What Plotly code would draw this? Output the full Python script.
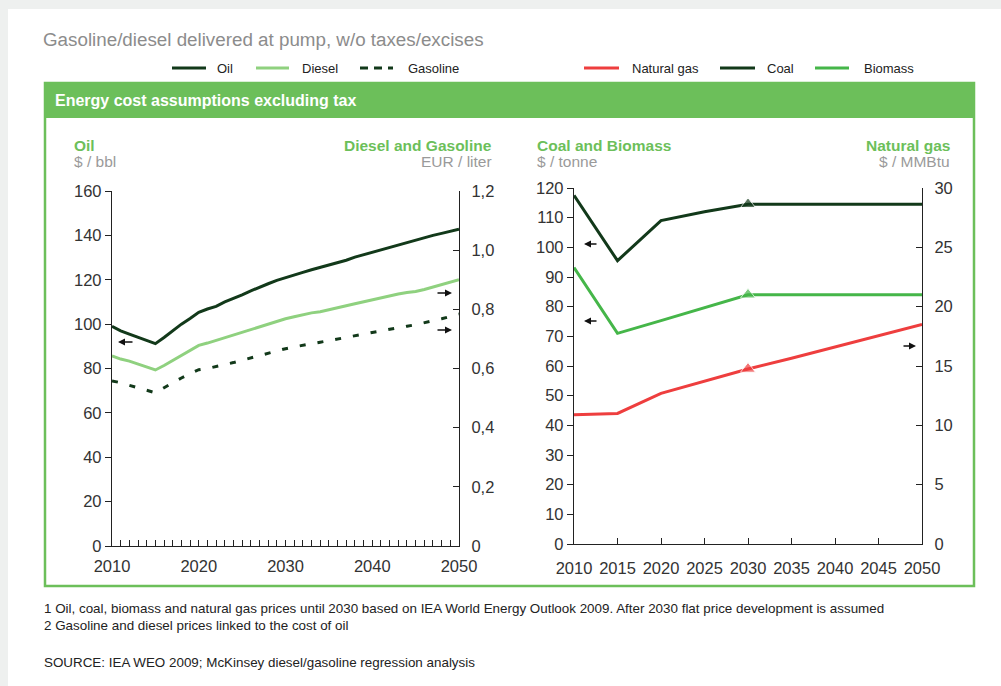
import plotly.graph_objects as go

# ---------------- data ----------------
oil_years = list(range(2010, 2051))
oil_usd_bbl = [99, 97, 95.5, 94, 92.5, 91.2, 94, 97, 100, 102.5,
               105.3, 106.8, 108, 110, 111.5, 113.2, 115, 116.7, 118.2, 119.7,
               121, 122.2, 123.3, 124.5, 125.5, 126.5, 127.7, 128.8, 130.2, 131.3,
               132.2, 133.6, 134.7, 135.5, 136.6, 137.8, 139, 140, 140.9, 141.8, 142.8]
diesel_eur_l = [.643, .632, .625, .615, .605, .595, .610, .627, .643, .660,
                .678, .686, .695, .705, .714, .722, .732, .741, .750, .760,
                .768, .775, .782, .788, .792, .798, .805, .812, .819, .826,
                .833, .840, .846, .852, .857, .860, .867, .875, .883, .891, .900]
gasoline_eur_l = [.558, .552, .543, .535, .527, .518, .535, .552, .568, .583,
                  .596, .600, .606, .613, .620, .628, .636, .644, .652, .660,
                  .667, .673, .679, .684, .689, .694, .700, .706, .711, .716,
                  .722, .727, .733, .738, .743, .748, .754, .761, .768, .776, .784]

fuel_years = [2010, 2015, 2020, 2025, 2030, 2035, 2040, 2045, 2050]
coal_usd_t = [117.5, 95.5, 109, 112, 114.5, 114.5, 114.5, 114.5, 114.5]
biomass_usd_t = [93.2, 71, 75.3, 79.6, 84, 84, 84, 84, 84]
natgas_usd_mmbtu = [10.9, 11.0, 12.7, 13.7, 14.75, 15.65, 16.6, 17.55, 18.5]
marker_year = 2030

left_right_ticks = [0, 0.2, 0.4, 0.6, 0.8, 1.0, 1.2]
left_right_labels = ["0", "0,2", "0,4", "0,6", "0,8", "1,0", "1,2"]

# ---------------- styles ----------------
W, H = 1001, 686
DARK = "#12391a"
DIESEL = "#8fd17f"
BIOMASS = "#45b649"
RED = "#ee3e3e"
GREEN = "#6cbf5a"
GREY = "#9a9a9a"
FONT = "Liberation Sans, Arial, sans-serif"
TICKFONT = dict(family=FONT, size=16.5, color="#333333")


def px(x):
    return x / W


def py(y):
    return 1 - y / H


msize = [13 if y == marker_year else 0 for y in fuel_years]

fig = go.Figure()

# Left panel
fig.add_trace(go.Scatter(x=oil_years, y=oil_usd_bbl, mode="lines", name="Oil",
                         line=dict(color=DARK, width=3), xaxis="x", yaxis="y"))
fig.add_trace(go.Scatter(x=oil_years, y=diesel_eur_l, mode="lines", name="Diesel",
                         line=dict(color=DIESEL, width=3), xaxis="x", yaxis="y2"))
fig.add_trace(go.Scatter(x=oil_years, y=gasoline_eur_l, mode="lines", name="Gasoline",
                         line=dict(color=DARK, width=3, dash="6px,12px"), xaxis="x", yaxis="y2"))
# Right panel
fig.add_trace(go.Scatter(x=fuel_years, y=coal_usd_t, mode="lines+markers", name="Coal",
                         line=dict(color=DARK, width=3),
                         marker=dict(symbol="triangle-up", size=msize, color=DARK),
                         xaxis="x2", yaxis="y3"))
fig.add_trace(go.Scatter(x=fuel_years, y=biomass_usd_t, mode="lines+markers", name="Biomass",
                         line=dict(color=BIOMASS, width=3),
                         marker=dict(symbol="triangle-up", size=msize, color=BIOMASS),
                         xaxis="x2", yaxis="y3"))
fig.add_trace(go.Scatter(x=fuel_years, y=natgas_usd_mmbtu, mode="lines+markers", name="Natural gas",
                         line=dict(color=RED, width=3),
                         marker=dict(symbol="triangle-up", size=msize, color=RED),
                         xaxis="x2", yaxis="y4"))

common_axis = dict(showgrid=False, zeroline=False, showline=True, linecolor="#222222",
                   linewidth=1.3, tickcolor="#222222", tickfont=TICKFONT, automargin=False)

fig.update_layout(
    template="none",
    width=W, height=H, autosize=False,
    margin=dict(l=0, r=0, t=0, b=0, pad=0),
    paper_bgcolor="#eef0ef", plot_bgcolor="rgba(0,0,0,0)",
    showlegend=False,
    font=dict(family=FONT),
    xaxis=dict(domain=[px(112), px(459)], range=[2010, 2050], anchor="y",
               tickvals=[2010, 2020, 2030, 2040, 2050], ticks="inside", ticklen=6,
               minor=dict(dtick=1, tick0=2010, ticks="inside", ticklen=6, tickcolor="#222222"),
               ticklabelstandoff=5, **common_axis),
    yaxis=dict(domain=[py(546), py(191)], range=[0, 160], anchor="x", dtick=20,
               ticks="outside", ticklen=6, **common_axis),
    yaxis2=dict(overlaying="y", side="right", anchor="x", range=[0, 1.2],
                tickvals=left_right_ticks, ticktext=left_right_labels,
                ticks="inside", ticklen=6, ticklabelstandoff=8, **common_axis),
    xaxis2=dict(domain=[px(574), px(922)], range=[2010, 2050], anchor="y3",
                dtick=5, tick0=2010, ticks="inside", ticklen=6, ticklabelstandoff=9,
                **common_axis),
    yaxis3=dict(domain=[py(544), py(188)], range=[0, 120], anchor="x2", dtick=10,
                ticks="outside", ticklen=6, **common_axis),
    yaxis4=dict(overlaying="y3", side="right", anchor="x2", range=[0, 30], dtick=5,
                ticks="inside", ticklen=6, ticklabelstandoff=8, **common_axis),
)

shapes = []
# card background
shapes.append(dict(type="rect", xref="paper", yref="paper", x0=px(8), x1=px(1010),
                   y0=py(700), y1=py(9), fillcolor="white", line=dict(width=0), layer="below"))
# green box
shapes.append(dict(type="rect", xref="paper", yref="paper", x0=px(45), x1=px(974),
                   y0=py(586), y1=py(83), fillcolor="rgba(0,0,0,0)",
                   line=dict(color=GREEN, width=2.5), layer="below"))
shapes.append(dict(type="rect", xref="paper", yref="paper", x0=px(45), x1=px(974),
                   y0=py(118), y1=py(83), fillcolor=GREEN,
                   line=dict(color=GREEN, width=0), layer="below"))

annotations = []


def text(x, y, s, size=12, color="#222222", anchor="left", bold=False):
    if bold:
        s = "<b>" + s + "</b>"
    annotations.append(dict(xref="paper", yref="paper", x=px(x), y=py(y), text=s,
                            showarrow=False, xanchor=anchor, yanchor="middle",
                            font=dict(family=FONT, size=size, color=color)))


# legend
legend_items = [
    (172, 206, 215, "Oil", DARK, "solid"),
    (256, 289, 300, "Diesel", DIESEL, "solid"),
    (360, 393, 406, "Gasoline", DARK, "dash"),
    (584, 619, 630, "Natural gas", RED, "solid"),
    (720, 755, 765, "Coal", DARK, "solid"),
    (815, 849, 862, "Biomass", BIOMASS, "solid"),
]
for x0, x1, tx, label, col, dash in legend_items:
    shapes.append(dict(type="line", xref="paper", yref="paper", x0=px(x0), x1=px(x1),
                       y0=py(68), y1=py(68), line=dict(color=col, width=3,
                                                        dash="8px,6px" if dash == "dash" else "solid")))
    text(tx, 68, label, size=13, color="#222222")

text(41, 39, "Gasoline/diesel delivered at pump, w/o taxes/excises", size=18.8, color="#8c8c8c")
text(53, 101, "Energy cost assumptions excluding tax", size=16, color="white", bold=True)

text(72, 145, "Oil", size=15.5, color=GREEN, bold=True)
text(72, 162, "$ / bbl", size=15.5, color=GREY)
text(494, 145, "Diesel and Gasoline", size=15.5, color=GREEN, anchor="right", bold=True)
text(494, 162, "EUR / liter", size=15.5, color=GREY, anchor="right")
text(535, 145, "Coal and Biomass", size=15.5, color=GREEN, bold=True)
text(535, 162, "$ / tonne", size=15.5, color=GREY)
text(952, 145, "Natural gas", size=15.5, color=GREEN, anchor="right", bold=True)
text(952, 162, "$ / MMBtu", size=15.5, color=GREY, anchor="right")

text(42, 608, "1 Oil, coal, biomass and natural gas prices until 2030 based on IEA World Energy Outlook 2009. "
              "After 2030 flat price development is assumed", size=13.4)
text(42, 625, "2 Gasoline and diesel prices linked to the cost of oil", size=13.4)
text(42, 662, "SOURCE: IEA WEO 2009; McKinsey diesel/gasoline regression analysis", size=13.4)

# axis-indicator arrows (head position, direction)
arrows = [(118, 342, 16), (452, 293, -16), (452, 330, -16),
          (584, 244, 14), (584, 321, 14), (916, 346, -14)]
for hx, hy, off in arrows:
    annotations.append(dict(xref="paper", yref="paper", x=px(hx), y=py(hy), ax=off, ay=0,
                            axref="pixel", ayref="pixel", text="", showarrow=True,
                            arrowhead=2, arrowsize=1, arrowwidth=1.4, arrowcolor="#111111"))

fig.update_layout(shapes=shapes, annotations=annotations)

fig.write_html("out.html", post_script="document.body.style.margin='0';",
               config={"displayModeBar": False})
